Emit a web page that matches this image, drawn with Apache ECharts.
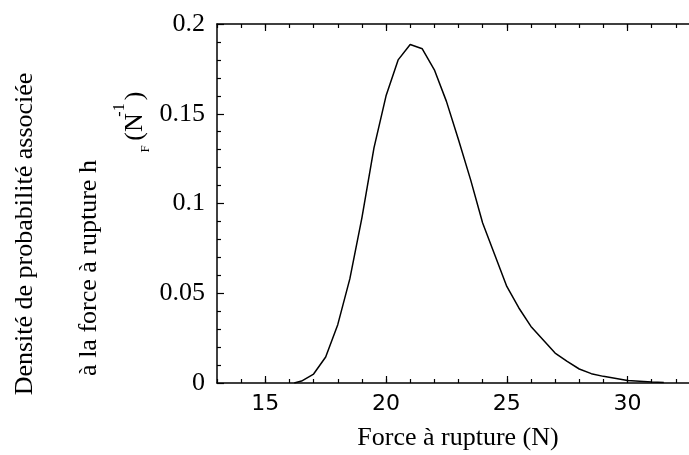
<!DOCTYPE html>
<html>
<head>
<meta charset="utf-8">
<script src="https://cdn.jsdelivr.net/npm/echarts@6/dist/echarts.min.js"></script>
<style>
  html, body { margin: 0; padding: 0; background: #fff; }
  #chart { width: 689px; height: 455px; }
</style>
</head>
<body>
<div id="chart"></div>
<script>
// force at rupture (N) and associated probability density h_F (N^-1)
const forces = [16.2, 16.5, 17, 17.5, 18, 18.5, 19, 19.5, 20, 20.5, 21, 21.5, 22, 22.5, 23, 23.5,
  24, 24.5, 25, 25.5, 26, 26.5, 27, 27.5, 28, 28.5, 29, 30, 31, 31.5];
const densities = [0, 0.0011, 0.005, 0.0145, 0.0325, 0.058, 0.092, 0.131, 0.160, 0.180, 0.1886, 0.1862,
  0.1745, 0.1569, 0.1355, 0.1133, 0.0891, 0.0715, 0.0538, 0.0418, 0.0315, 0.0241, 0.0167, 0.0120,
  0.0078, 0.0052, 0.0037, 0.0014, 0.0006, 0.0003];
const xMajorTicks = [15, 20, 25, 30];

const serif = "'Liberation Serif', 'Times New Roman', serif";
const sans = "'DejaVu Sans', sans-serif";

const chart = echarts.init(document.getElementById('chart'));

function minorX(position, showLabel) {
  return {
    type: 'value', position: position, min: 13, max: 33, interval: 1,
    axisLine: { lineStyle: { color: '#000', width: 1.5 } },
    axisTick: { inside: true, length: 4, lineStyle: { color: '#000', width: 1.2 } },
    axisLabel: {
      show: showLabel, margin: 10, color: '#000', fontFamily: sans, fontSize: 22,
      formatter: v => (v % 5 === 0 ? String(v) : '')
    },
    splitLine: { show: false }
  };
}
function majorX(position) {
  return {
    type: 'value', position: position, min: 13, max: 33,
    axisLine: { show: false },
    axisTick: { inside: true, length: 7, customValues: xMajorTicks, lineStyle: { color: '#000', width: 1.2 } },
    axisLabel: { show: false },
    splitLine: { show: false }
  };
}

const option = {
  animation: false,
  grid: { left: 217, top: 24, width: 483, height: 359, outerBoundsMode: 'none', containLabel: false },
  xAxis: [minorX('bottom', true), majorX('bottom'), minorX('top', false), majorX('top')],
  yAxis: {
    type: 'value', min: 0, max: 0.2, interval: 0.05,
    axisLine: { show: true, lineStyle: { color: '#000', width: 1.5 } },
    axisTick: { show: true, inside: true, length: 7, lineStyle: { color: '#000', width: 1.2 } },
    minorTick: { show: true, splitNumber: 5, length: 4, lineStyle: { color: '#000', width: 1.2 } },
    axisLabel: { margin: 12, color: '#000', fontFamily: serif, fontSize: 26 },
    splitLine: { show: false }
  },
  graphic: [
    { type: 'text', x: 25, y: 234, rotation: Math.PI / 2,
      style: { text: 'Densité de probabilité associée', font: '26px ' + serif, fill: '#000', align: 'center', verticalAlign: 'middle' } },
    { type: 'text', x: 89, y: 268, rotation: Math.PI / 2,
      style: { text: 'à la force à rupture h', font: '26px ' + serif, fill: '#000', align: 'center', verticalAlign: 'middle' } },
    { type: 'text', x: 135, y: 127, rotation: Math.PI / 2,
      style: { text: '(N', font: '26px ' + serif, fill: '#000', align: 'center', verticalAlign: 'middle' } },
    { type: 'text', x: 120, y: 110, rotation: Math.PI / 2,
      style: { text: '-1', font: '16px ' + serif, fill: '#000', align: 'center', verticalAlign: 'middle' } },
    { type: 'text', x: 135, y: 96, rotation: Math.PI / 2,
      style: { text: ')', font: '26px ' + serif, fill: '#000', align: 'center', verticalAlign: 'middle' } },
    { type: 'text', x: 146, y: 149, rotation: Math.PI / 2,
      style: { text: 'F', font: '13px ' + serif, fill: '#000', align: 'center', verticalAlign: 'middle' } },
    { type: 'text', x: 458, y: 438,
      style: { text: 'Force à rupture (N)', font: '26px ' + serif, fill: '#000', align: 'center', verticalAlign: 'middle' } }
  ],
  series: [{
    type: 'line',
    xAxisIndex: 0,
    data: forces.map((f, i) => [f, densities[i]]),
    symbol: 'none',
    lineStyle: { color: '#000', width: 1.5 }
  }]
};

chart.setOption(option);
</script>
</body>
</html>
